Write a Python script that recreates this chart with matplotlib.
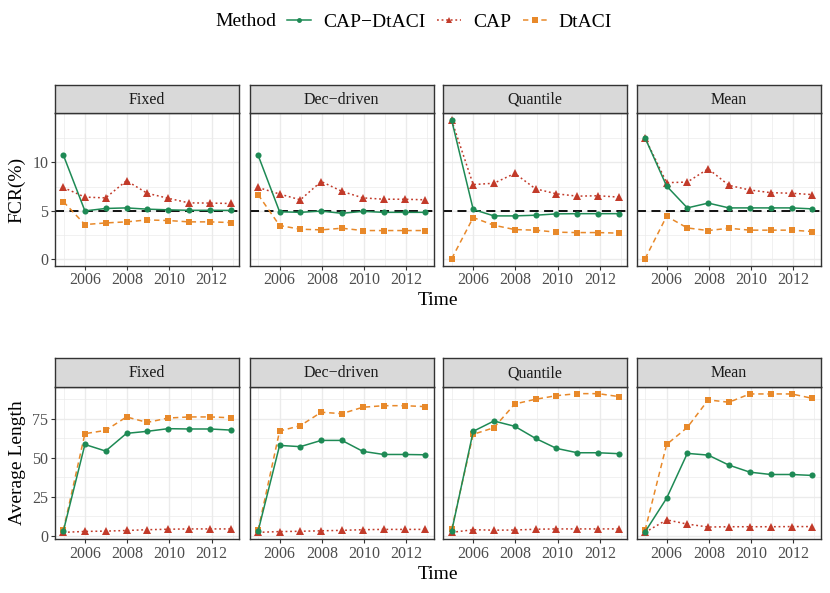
import matplotlib
matplotlib.use("Agg")
import matplotlib.pyplot as plt
from matplotlib.lines import Line2D

plt.rcParams['font.family'] = ['Liberation Serif', 'DejaVu Serif']

# ---------------- data ----------------
time = [2004.98, 2006.0, 2006.98, 2007.97, 2008.95, 2009.94, 2010.93, 2011.92, 2012.9]
panels = ["Fixed", "Dec\u2212driven", "Quantile", "Mean"]
methods = ["CAP\u2212DtACI", "CAP", "DtACI"]
x_ticks = [2006, 2008, 2010, 2012]
x_minor = [2005, 2007, 2009, 2011, 2013]
fcr_ticks = [0, 5, 10]
fcr_minor = [2.5, 7.5, 12.5]
len_ticks = [0, 25, 50, 75]
len_minor = [12.5, 37.5, 62.5, 87.5]
target_fcr = 5

# FCR (%) per panel: Fixed, Dec-driven, Quantile, Mean
fcr_cap_dtaci = [
    [10.76, 4.97, 5.22, 5.28, 5.15, 5.08, 5.03, 5.03, 5.02],
    [10.76, 4.88, 4.82, 4.95, 4.72, 4.92, 4.82, 4.82, 4.82],
    [14.38, 5.12, 4.45, 4.45, 4.52, 4.66, 4.68, 4.68, 4.68],
    [12.55, 7.55, 5.28, 5.78, 5.28, 5.28, 5.28, 5.28, 5.18],
]
fcr_cap = [
    [7.40, 6.40, 6.32, 8.10, 6.80, 6.28, 5.80, 5.78, 5.74],
    [7.40, 6.72, 6.12, 8.02, 7.00, 6.32, 6.18, 6.18, 6.12],
    [14.38, 7.70, 7.84, 8.86, 7.26, 6.74, 6.50, 6.54, 6.40],
    [12.55, 7.90, 7.96, 9.34, 7.62, 7.14, 6.86, 6.80, 6.66],
]
fcr_dtaci = [
    [5.93, 3.55, 3.72, 3.83, 4.03, 3.97, 3.83, 3.83, 3.76],
    [6.66, 3.45, 3.07, 3.00, 3.17, 2.93, 2.93, 2.93, 2.93],
    [0.00, 4.28, 3.48, 3.03, 2.97, 2.76, 2.72, 2.72, 2.66],
    [0.00, 4.41, 3.20, 2.93, 3.17, 2.97, 2.97, 2.97, 2.83],
]

# Average length per panel
len_cap_dtaci = [
    [3.2, 58.5, 54.3, 65.6, 66.9, 68.6, 68.4, 68.4, 67.7],
    [3.0, 57.9, 57.1, 61.1, 61.1, 54.1, 52.1, 52.1, 51.9],
    [3.0, 66.9, 73.5, 70.1, 62.4, 56.0, 53.2, 53.2, 52.6],
    [2.6, 24.1, 52.8, 51.7, 45.3, 40.8, 39.3, 39.3, 38.7],
]
len_cap = [
    [2.3, 2.9, 3.1, 3.5, 4.0, 4.3, 4.5, 4.5, 4.5],
    [2.3, 2.8, 3.0, 3.3, 3.6, 4.0, 4.2, 4.2, 4.2],
    [2.3, 4.0, 3.7, 3.8, 4.3, 4.5, 4.5, 4.5, 4.5],
    [2.3, 10.3, 7.6, 5.7, 5.9, 5.9, 5.9, 6.0, 6.0],
]
len_dtaci = [
    [3.6, 65.4, 67.5, 76.1, 72.6, 75.4, 76.1, 76.1, 75.6],
    [3.6, 67.1, 70.5, 79.1, 78.2, 82.3, 83.3, 83.3, 82.7],
    [4.3, 65.0, 69.2, 84.4, 87.4, 89.7, 91.0, 91.0, 89.1],
    [3.6, 58.5, 69.4, 87.0, 85.5, 90.8, 90.8, 90.8, 88.0],
]

# ---------------- style ----------------
colors = ["#1E8A55", "#C23B2A", "#E8892A"]
markers = ["o", "^", "s"]
msizes = [4.4, 5.6, 4.6]
dashes = [None, (1.2, 1.8), (3.5, 2.5)]

W, H = 830, 593
fig = plt.figure(figsize=(W / 100, H / 100), dpi=100)

panel_left = [55, 249.7, 443.3, 636.7]
panel_w = 184.0
rows = [(113.3, 265.7), (386.7, 539.3)]
strip_h = 28.5

def add_px_axes(x0, y0, x1, y1):
    return fig.add_axes([x0 / W, 1 - y1 / H, (x1 - x0) / W, (y1 - y0) / H])

tick_col = "#4D4D4D"
frame_col = "#333333"

def expand(values):
    lo = min(min(v) for v in values)
    hi = max(max(v) for v in values)
    r = hi - lo
    return lo - 0.05 * r, hi + 0.05 * r

xr = (min(time) - 0.05 * (max(time) - min(time)), max(time) + 0.05 * (max(time) - min(time)))

row_data = [
    (fcr_cap_dtaci, fcr_cap, fcr_dtaci, fcr_ticks, fcr_minor, "FCR(%)"),
    (len_cap_dtaci, len_cap, len_dtaci, len_ticks, len_minor, "Average Length"),
]

for r, (top, bot) in enumerate(rows):
    d0, d1, d2, yt, ym, ylab = row_data[r]
    allv = [v for series in (d0, d1, d2) for v in series]
    ylim = expand(allv)
    for p in range(4):
        x0 = panel_left[p]
        ax = add_px_axes(x0, top, x0 + panel_w, bot)
        ax.set_xlim(*xr)
        ax.set_ylim(*ylim)
        # grid
        for v in x_minor:
            ax.axvline(v, color="#EBEBEB", lw=0.5, zorder=0)
        for v in ym:
            ax.axhline(v, color="#EBEBEB", lw=0.5, zorder=0)
        ax.set_xticks(x_ticks)
        ax.set_yticks(yt)
        ax.grid(True, which="major", color="#EBEBEB", lw=1.0, zorder=0)
        ax.set_axisbelow(True)
        if r == 0:
            ax.axhline(target_fcr, color="black", lw=1.3, ls=(0, (5, 3)), zorder=1)
        for k, series in enumerate((d0, d1, d2)):
            kw = dict(color=colors[k], marker=markers[k], ms=msizes[k], lw=1.1,
                      markeredgewidth=0, zorder=3 + (2 - k) * 0.1)
            ln, = ax.plot(time, series[p], **kw)
            if dashes[k] is not None:
                ln.set_dashes(dashes[k])
        for s in ax.spines.values():
            s.set_color(frame_col)
            s.set_linewidth(1.0)
        ax.tick_params(axis="both", length=2.75, width=0.8, color=frame_col,
                       labelcolor=tick_col, labelsize=11.5, pad=2)
        if p != 0:
            ax.tick_params(axis="y", labelleft=False, left=False)
        else:
            ax.set_yticklabels([str(v) for v in yt])
        ax.set_xticklabels([str(v) for v in x_ticks])
        # strip
        sax = add_px_axes(x0, top - strip_h, x0 + panel_w, top)
        sax.set_facecolor("#D9D9D9")
        sax.set_xticks([])
        sax.set_yticks([])
        for s in sax.spines.values():
            s.set_color(frame_col)
            s.set_linewidth(1.0)
        sax.text(0.5, 0.48, panels[p], transform=sax.transAxes, ha="center",
                 va="center", fontsize=11.5, color="#1A1A1A")
    # axis titles
    fig.text(437.9 / W, 1 - (bot + 35) / H, "Time", ha="center", va="center", fontsize=14)
    fig.text(17 / W, 1 - ((top + bot) / 2) / H, ylab, ha="center", va="center",
             rotation=90, fontsize=14)

# legend
handles = []
for k in range(3):
    h = Line2D([], [], color=colors[k], marker=markers[k], ms=msizes[k] * 0.8, lw=1.1,
               markeredgewidth=0)
    if dashes[k] is not None:
        h.set_dashes(dashes[k])
    handles.append(h)
fig.text(215 / W, 1 - 22 / H, "Method", ha="left", va="center", fontsize=14)
fig.legend(handles, methods, loc="center left", bbox_to_anchor=(287 / W, 1 - 22 / H),
           ncol=3, frameon=False, fontsize=14, handlelength=1.25, handletextpad=0.6,
           columnspacing=0.6, borderpad=0, borderaxespad=0)

fig.savefig("out.png", dpi=100)
